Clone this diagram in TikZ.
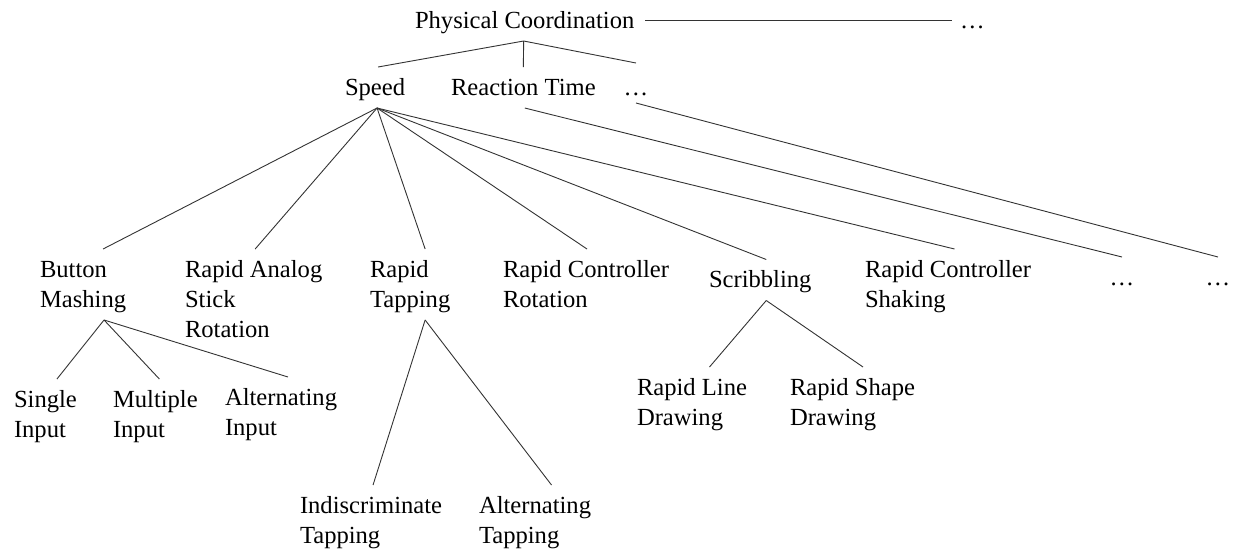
\documentclass[tikz,border=0pt]{standalone}
\usepackage{fontspec}
\setmainfont{Liberation Serif}
\newcommand\topstrut{\rule{0pt}{28pt}}
\newcommand\botstrut{\rule[-13pt]{0pt}{13pt}}
\begin{document}
\begin{tikzpicture}[x=1pt,y=-1pt,
  lbl/.style={inner sep=0pt, outer sep=0pt, anchor=north west, align=left,
    font=\fontsize{24.6pt}{30pt}\selectfont},
  dotlbl/.style={lbl, anchor=north},
  conn/.style={draw=black!80, line width=0.9pt}]
\useasboundingbox (0,0) rectangle (1238,550);
% level 1
\node[lbl] (pc) at (415,0) {\topstrut Physical Coordination\botstrut};
\node[dotlbl] (d0) at (972.5,0) {\topstrut …\botstrut};
% level 2
\node[lbl] (sp) at (345,67) {\topstrut Speed\botstrut};
\node[lbl] (rtm) at (451,67) {\topstrut Reaction Time\botstrut};
\node[dotlbl] (d1) at (636,67) {\topstrut …\botstrut};
% level 3
\node[lbl] (bm) at (40,249) {\topstrut Button\\Mashing\botstrut};
\node[lbl] (ra) at (185,249) {\topstrut Rapid Analog\\Stick\\Rotation\botstrut};
\node[lbl] (rt) at (370,249) {\topstrut Rapid\\Tapping\botstrut};
\node[lbl] (rcr) at (503,249) {\topstrut Rapid Controller\\Rotation\botstrut};
\node[lbl] (scr) at (709,259.5) {\topstrut Scribbling\botstrut};
\node[lbl] (rcs) at (865,249) {\topstrut Rapid Controller\\Shaking\botstrut};
\node[dotlbl] (d2) at (1122,257) {\topstrut …\botstrut};
\node[dotlbl] (d3) at (1218,257) {\topstrut …\botstrut};
% level 4
\node[lbl] (si) at (14,379) {\topstrut Single\\Input\botstrut};
\node[lbl] (mi) at (113,379) {\topstrut Multiple\\Input\botstrut};
\node[lbl] (ai) at (225,377) {\topstrut Alternating\\Input\botstrut};
\node[lbl] (it) at (300,485) {\topstrut Indiscriminate\\Tapping\botstrut};
\node[lbl] (at) at (479,485) {\topstrut Alternating\\Tapping\botstrut};
\node[lbl] (rld) at (637,367) {\topstrut Rapid Line\\Drawing\botstrut};
\node[lbl] (rsd) at (790,367) {\topstrut Rapid Shape\\Drawing\botstrut};
% connectors
\draw[conn] ([xshift=11pt]pc.east) -- ([xshift=-8pt]d0.west);
\draw[conn] ([xshift=-1pt]pc.south) -- ([xshift=3pt]sp.north);
\draw[conn] ([xshift=-1pt]pc.south) -- (rtm.north);
\draw[conn] ([xshift=-1pt]pc.south) -- ([yshift=4pt]d1.north);
\draw[conn] ([xshift=2pt]sp.south) -- ([xshift=20pt]bm.north);
\draw[conn] ([xshift=2pt]sp.south) -- ([xshift=1.5pt]ra.north);
\draw[conn] ([xshift=2pt]sp.south) -- ([xshift=15pt]rt.north);
\draw[conn] ([xshift=2pt]sp.south) -- ([xshift=1pt]rcr.north);
\draw[conn] ([xshift=2pt]sp.south) -- ([xshift=6pt]scr.north);
\draw[conn] ([xshift=2pt]sp.south) -- ([xshift=6.5pt]rcs.north);
\draw[conn] ([xshift=1.5pt]rtm.south) -- (d2.north);
\draw[conn] ([yshift=5pt]d1.south) -- (d3.north);
\draw[conn] ([xshift=21pt]bm.south) -- ([xshift=11.5pt]si.north);
\draw[conn] ([xshift=21pt]bm.south) -- ([xshift=4pt]mi.north);
\draw[conn] ([xshift=21pt]bm.south) -- ([xshift=7pt]ai.north);
\draw[conn] ([xshift=15pt]rt.south) -- ([xshift=2pt]it.north);
\draw[conn] ([xshift=15pt]rt.south) -- ([xshift=16.5pt]at.north);
\draw[conn] ([xshift=6pt]scr.south) -- ([xshift=17.5pt]rld.north);
\draw[conn] ([xshift=6pt]scr.south) -- ([xshift=10.5pt]rsd.north);
\end{tikzpicture}
\end{document}
